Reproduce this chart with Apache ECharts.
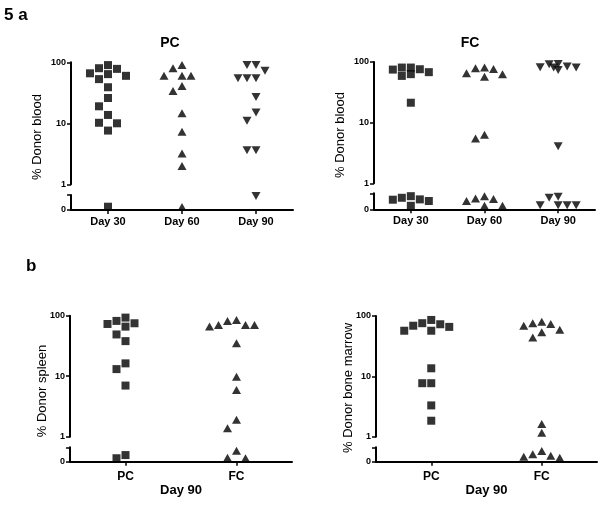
<!DOCTYPE html>
<html><head><meta charset="utf-8">
<script src="https://cdn.jsdelivr.net/npm/echarts@6/dist/echarts.min.js"></script>
<style>html,body{margin:0;padding:0;background:#fff}#c{width:602px;height:505px}</style>
</head><body><div id="c"></div>
<script>
// ---------- data (values < 1 are drawn in the broken "0" segment, scale 0–0.5) ----------
const daysA = ['Day 30', 'Day 60', 'Day 90'];
const groupsB = ['PC', 'FC'];

// panel a – % donor blood, PC
const pcBloodDay30 = [90, 80, 78, 66, 64, 60, 53, 39, 26, 19, 13.7, 10.2, 10, 7.6, 0.11];
const pcBloodDay60 = [90, 80, 60, 60, 60, 41, 34, 14.6, 7.3, 3.2, 2.0, 0.1];
const pcBloodDay90 = [90, 90, 73, 55, 55, 55, 27, 15, 11, 3.6, 3.6, 0.47];
// panel a – % donor blood, FC
const fcBloodDay30 = [81, 81, 76, 75, 68, 63, 59, 21.3, 0.41, 0.36, 0.31, 0.30, 0.26, 0.11];
const fcBloodDay60 = [81, 79, 77, 65, 63, 57, 6.3, 5.5, 0.41, 0.34, 0.32, 0.26, 0.11, 0.11];
const fcBloodDay90 = [93, 92, 84, 82, 81, 81, 74, 4.1, 0.39, 0.36, 0.13, 0.13, 0.13, 0.13];
// panel b – day 90 spleen / bone marrow
const pcSpleen = [93, 82, 75, 73, 66, 49, 38, 16.3, 13.1, 7.0, 0.23, 0.12];
const fcSpleen = [85, 82, 70, 70, 70, 66, 35, 9.8, 5.9, 1.9, 1.38, 0.38, 0.14, 0.12];
const pcMarrow = [86, 76, 73, 69, 66, 57, 57, 13.6, 7.7, 7.7, 3.3, 1.84];
const fcMarrow = [80, 76, 74, 69, 59, 54, 44, 1.62, 1.16, 0.37, 0.26, 0.21, 0.17, 0.14];

const yTickLabelsUpper = ['1', '10', '100'];
const yTickLabelsLower = ['0'];

// ---------- styling / layout ----------
const FONT = '"Liberation Sans", Arial, sans-serif';
const INK = '#000';
const SHAPES = {
  square: { symbol: 'rect', size: 8, rotate: 0 },
  up: { symbol: 'triangle', size: [9, 8], rotate: 0 },
  down: { symbol: 'triangle', size: [9, 8], rotate: 180 }
};

const panels = [
  { cats: daysA, values: [pcBloodDay30, pcBloodDay60, pcBloodDay90], shapes: ['square', 'up', 'down'],
    upper: { left: 71, top: 62.3, width: 222, height: 122 }, lower: { left: 71, top: 195, width: 222, height: 15 },
    xLabelSize: 11, xLabelMargin: 6, xName: '' },
  { cats: daysA, values: [fcBloodDay30, fcBloodDay60, fcBloodDay90], shapes: ['square', 'up', 'down'],
    upper: { left: 374, top: 62, width: 221, height: 121.3 }, lower: { left: 374, top: 193.3, width: 221, height: 16 },
    xLabelSize: 11, xLabelMargin: 6, xName: '' },
  { cats: groupsB, values: [pcSpleen, fcSpleen], shapes: ['square', 'up'],
    upper: { left: 70, top: 315.7, width: 222, height: 121 }, lower: { left: 70, top: 447.3, width: 222, height: 14.4 },
    xLabelSize: 12, xLabelMargin: 9, xName: 'Day 90' },
  { cats: groupsB, values: [pcMarrow, fcMarrow], shapes: ['square', 'up'],
    upper: { left: 376, top: 316, width: 221, height: 120.7 }, lower: { left: 376, top: 447.3, width: 221, height: 14.4 },
    xLabelSize: 12, xLabelMargin: 9, xName: 'Day 90' }
];

const axisLineStyle = { color: INK, width: 2 };
const tickStyle = { color: INK, width: 1.5 };
const labelStyle = { color: INK, fontFamily: FONT, fontWeight: 'bold', fontSize: 9, margin: 5 };

const grids = [], xAxes = [], yAxes = [], series = [];
const seriesMeta = [];

panels.forEach((p, i) => {
  const gu = 2 * i, gl = 2 * i + 1;
  grids.push(Object.assign({ containLabel: false }, p.upper));
  grids.push(Object.assign({ containLabel: false }, p.lower));
  xAxes.push({ type: 'category', gridIndex: gu, data: p.cats, show: false });
  xAxes.push({
    type: 'category', gridIndex: gl, data: p.cats,
    axisLine: { show: true, lineStyle: axisLineStyle },
    axisTick: { show: true, alignWithLabel: true, length: 4, lineStyle: tickStyle },
    axisLabel: { color: INK, fontFamily: FONT, fontWeight: 'bold', fontSize: p.xLabelSize, margin: p.xLabelMargin, interval: 0 },
    name: p.xName, nameLocation: 'middle', nameGap: 22,
    nameTextStyle: { color: INK, fontFamily: FONT, fontWeight: 'bold', fontSize: 13 },
    splitLine: { show: false }
  });
  yAxes.push({
    type: 'log', logBase: 10, gridIndex: gu, min: 1, max: 100,
    axisLine: { show: true, lineStyle: axisLineStyle },
    axisTick: { show: true, length: 4, lineStyle: tickStyle },
    minorTick: { show: false }, splitLine: { show: false }, minorSplitLine: { show: false },
    axisLabel: Object.assign({}, labelStyle, {
      formatter: v => { const s = String(Math.round(v)); return yTickLabelsUpper.includes(s) ? s : ''; }
    })
  });
  yAxes.push({
    type: 'value', gridIndex: gl, min: 0, max: 0.5, interval: 0.5,
    axisLine: { show: true, lineStyle: axisLineStyle },
    axisTick: { show: true, length: 4, lineStyle: tickStyle },
    splitLine: { show: false },
    axisLabel: Object.assign({}, labelStyle, { formatter: v => (v === 0 ? yTickLabelsLower[0] : '') })
  });
  p.values.forEach((vals, c) => {
    const sh = SHAPES[p.shapes[c]];
    [['upper', gu, vals.filter(v => v >= 1)], ['lower', gl, vals.filter(v => v < 1)]].forEach(([seg, g, arr]) => {
      const id = 'p' + i + 'c' + c + seg;
      series.push({
        id, type: 'scatter', xAxisIndex: g, yAxisIndex: g,
        symbol: sh.symbol, symbolSize: sh.size, symbolRotate: sh.rotate,
        itemStyle: { color: INK }, z: 3, animation: false,
        data: arr.map(v => [c, v])
      });
      seriesMeta.push({ id, panel: i, cat: c, grid: g, vals: arr });
    });
  });
});

const graphic = [
  { type: 'text', x: 4, y: 15, style: { text: '5 a', fill: INK, font: 'bold 17px ' + FONT, textAlign: 'left', textVerticalAlign: 'middle' } },
  { type: 'text', x: 26, y: 266, style: { text: 'b', fill: INK, font: 'bold 17px ' + FONT, textAlign: 'left', textVerticalAlign: 'middle' } },
  { type: 'text', x: 170, y: 43.5, style: { text: 'PC', fill: INK, font: 'bold 14px ' + FONT, textAlign: 'center', textVerticalAlign: 'middle' } },
  { type: 'text', x: 470, y: 43.5, style: { text: 'FC', fill: INK, font: 'bold 14px ' + FONT, textAlign: 'center', textVerticalAlign: 'middle' } },
  { type: 'text', x: 37, y: 137, rotation: Math.PI / 2, style: { text: '% Donor blood', fill: INK, font: '13px ' + FONT, textAlign: 'center', textVerticalAlign: 'middle' } },
  { type: 'text', x: 340, y: 135, rotation: Math.PI / 2, style: { text: '% Donor blood', fill: INK, font: '13px ' + FONT, textAlign: 'center', textVerticalAlign: 'middle' } },
  { type: 'text', x: 42, y: 391, rotation: Math.PI / 2, style: { text: '% Donor spleen', fill: INK, font: '13px ' + FONT, textAlign: 'center', textVerticalAlign: 'middle' } },
  { type: 'text', x: 348, y: 388, rotation: Math.PI / 2, style: { text: '% Donor bone marrow', fill: INK, font: '13px ' + FONT, textAlign: 'center', textVerticalAlign: 'middle' } }
];

const chart = echarts.init(document.getElementById('c'), null, { renderer: 'canvas', width: 602, height: 505 });
chart.setOption({
  backgroundColor: '#fff', animation: false,
  grid: grids, xAxis: xAxes, yAxis: yAxes, series, graphic
});

// ---------- beeswarm layout (horizontal spread computed from pixel positions) ----------
const SLOT = 9, THR = 8.5;
const offsets = {};
panels.forEach((p, i) => {
  const band = p.upper.width / p.cats.length;
  const maxK = Math.max(1, Math.floor(0.25 * band / SLOT));
  const cands = [0];
  for (let k = 1; k <= maxK; k++) cands.push(-k * SLOT, k * SLOT);
  const halfs = [];
  for (let k = 0; k < maxK; k++) halfs.push(-(k + 0.5) * SLOT, (k + 0.5) * SLOT);
  const all = cands.concat(halfs);
  p.cats.forEach((_, c) => {
    const pts = [];
    seriesMeta.filter(m => m.panel === i && m.cat === c).forEach(m => {
      m.vals.forEach((v, j) => {
        const px = chart.convertToPixel({ gridIndex: m.grid }, [c, v]);
        pts.push({ id: m.id, j, v, y: px[1] });
      });
    });
    pts.sort((a, b) => b.v - a.v);
    const placed = [];
    pts.forEach(pt => {
      let chosen = null;
      for (const cx of cands) {
        if (!placed.some(q => Math.abs(q.x - cx) < THR && Math.abs(q.y - pt.y) < THR)) { chosen = cx; break; }
      }
      if (chosen === null) {
        let best = -1;
        for (const cx of all) {
          let md = Infinity;
          placed.forEach(q => { md = Math.min(md, Math.max(Math.abs(q.x - cx), Math.abs(q.y - pt.y))); });
          if (md > best + 1e-9) { best = md; chosen = cx; }
        }
      }
      placed.push({ x: chosen, y: pt.y });
      (offsets[pt.id] = offsets[pt.id] || [])[pt.j] = chosen;
    });
  });
});

chart.setOption({
  series: seriesMeta.map(m => ({
    id: m.id,
    data: m.vals.map((v, j) => ({ value: [m.cat, v], symbolOffset: [offsets[m.id] ? offsets[m.id][j] : 0, 0] }))
  }))
});
</script></body></html>
